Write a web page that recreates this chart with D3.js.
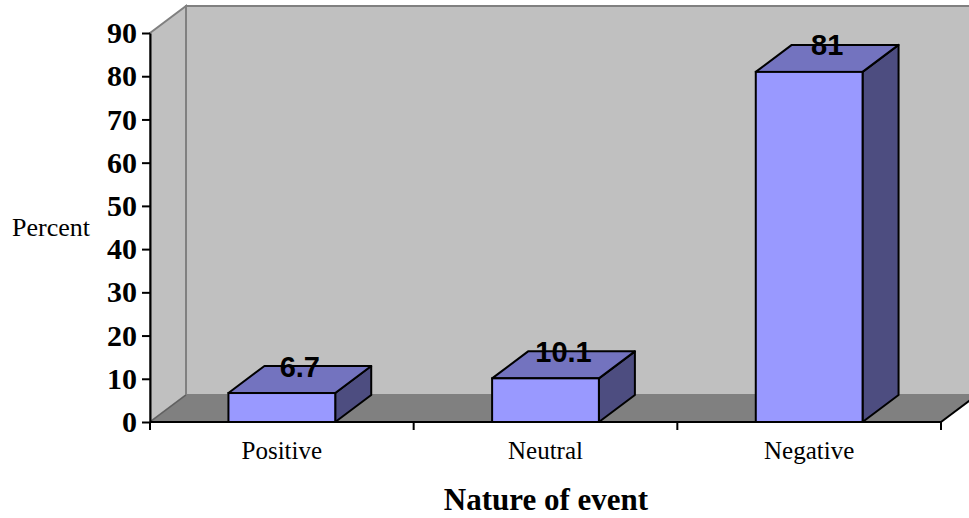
<!DOCTYPE html>
<html>
<head>
<meta charset="utf-8">
<script src="https://cdn.jsdelivr.net/npm/d3@7"></script>
<style>
  html, body { margin: 0; padding: 0; background: #fff; }
  svg { display: block; }
</style>
</head>
<body>
<svg id="chart" width="969" height="518"></svg>
<script>
// Survey data: nature of the event, percent of respondents
const categories = ["Positive", "Neutral", "Negative"];
const percents = [6.7, 10.1, 81];
const yTicks = [0, 10, 20, 30, 40, 50, 60, 70, 80, 90];

const svg = d3.select("#chart");

// Plot geometry and 3D depth offset
const x0 = 150, x1 = 941;
const y0 = 422, y1 = 33;
const dx = 36, dy = -27;

const x = d3.scaleBand().domain(categories).range([x0, x1]).padding(0);
const y = d3.scaleLinear().domain([0, 90]).range([y0, y1]);
const barW = x.bandwidth() * 0.405;

const pts = a => a.map(p => p.join(",")).join(" ");

// Back wall
svg.append("polygon")
  .attr("points", pts([[x0 + dx, y1 + dy], [x1 + dx, y1 + dy], [x1 + dx, y0 + dy], [x0 + dx, y0 + dy]]))
  .attr("fill", "#C0C0C0").attr("stroke", "#808080").attr("stroke-width", 2);

// Side wall
svg.append("polygon")
  .attr("points", pts([[x0, y1], [x0 + dx, y1 + dy], [x0 + dx, y0 + dy], [x0, y0]]))
  .attr("fill", "#C0C0C0").attr("stroke", "#808080").attr("stroke-width", 2);

// Floor
svg.append("polygon")
  .attr("points", pts([[x0, y0], [x0 + dx, y0 + dy], [x1 + dx, y0 + dy], [x1, y0]]))
  .attr("fill", "#808080").attr("stroke", "none");
svg.append("line")
  .attr("x1", x1).attr("y1", y0).attr("x2", x1 + dx).attr("y2", y0 + dy)
  .attr("stroke", "#000").attr("stroke-width", 2);
svg.append("line")
  .attr("x1", x0).attr("y1", y0).attr("x2", x0 + dx).attr("y2", y0 + dy)
  .attr("stroke", "#606060").attr("stroke-width", 1.5);

// Bars
const bars = svg.append("g").selectAll("g").data(categories).join("g");
bars.each(function (c, i) {
  const g = d3.select(this);
  const cx = x(c) + x.bandwidth() / 2;
  const l = cx - barW / 2, r = cx + barW / 2;
  const t = y(percents[i]), b = y(0);
  g.append("polygon")
    .attr("points", pts([[r, t], [r + dx, t + dy], [r + dx, b + dy], [r, b]]))
    .attr("fill", "#4D4D80").attr("stroke", "#000").attr("stroke-width", 2).attr("stroke-linejoin", "round");
  g.append("polygon")
    .attr("points", pts([[l, t], [l + dx, t + dy], [r + dx, t + dy], [r, t]]))
    .attr("fill", "#7373BF").attr("stroke", "#000").attr("stroke-width", 2).attr("stroke-linejoin", "round");
  g.append("rect")
    .attr("x", l).attr("y", t).attr("width", r - l).attr("height", b - t)
    .attr("fill", "#9999FF").attr("stroke", "#000").attr("stroke-width", 2);
  g.append("text")
    .attr("x", cx + dx / 2).attr("y", t + dy / 2 - 3)
    .attr("text-anchor", "middle")
    .attr("font-family", "Liberation Sans, Arial, sans-serif")
    .attr("font-weight", "bold").attr("font-size", 29)
    .text(percents[i]);
});

// Y axis
const yAxis = d3.axisLeft(y).tickValues(yTicks).tickSize(8).tickSizeOuter(0).tickPadding(5);
const yg = svg.append("g").attr("transform", `translate(${x0},0)`).call(yAxis);
yg.select(".domain").attr("stroke", "#000").attr("stroke-width", 2);
yg.selectAll(".tick line").attr("stroke", "#000").attr("stroke-width", 2);
yg.selectAll(".tick text")
  .attr("font-family", "Liberation Serif, Times New Roman, serif")
  .attr("font-weight", "bold").attr("font-size", 30).attr("fill", "#000");

// X axis line with boundary ticks
svg.append("line")
  .attr("x1", x0).attr("y1", y0).attr("x2", x1).attr("y2", y0)
  .attr("stroke", "#000").attr("stroke-width", 2);
const bounds = categories.map(c => x(c)).concat([x1]);
svg.append("g").selectAll("line").data(bounds).join("line")
  .attr("x1", d => d).attr("x2", d => d)
  .attr("y1", y0).attr("y2", y0 + 8)
  .attr("stroke", "#000").attr("stroke-width", 2);

// Category labels
svg.append("g").selectAll("text").data(categories).join("text")
  .attr("x", d => x(d) + x.bandwidth() / 2)
  .attr("y", 459)
  .attr("text-anchor", "middle")
  .attr("font-family", "Liberation Serif, Times New Roman, serif")
  .attr("font-size", 25)
  .text(d => d);

// Axis titles
svg.append("text")
  .attr("x", 51).attr("y", 236)
  .attr("text-anchor", "middle")
  .attr("font-family", "Liberation Serif, Times New Roman, serif")
  .attr("font-size", 26)
  .text("Percent");

svg.append("text")
  .attr("x", 546).attr("y", 510)
  .attr("text-anchor", "middle")
  .attr("font-family", "Liberation Serif, Times New Roman, serif")
  .attr("font-weight", "bold").attr("font-size", 31)
  .text("Nature of event");
</script>
</body>
</html>
